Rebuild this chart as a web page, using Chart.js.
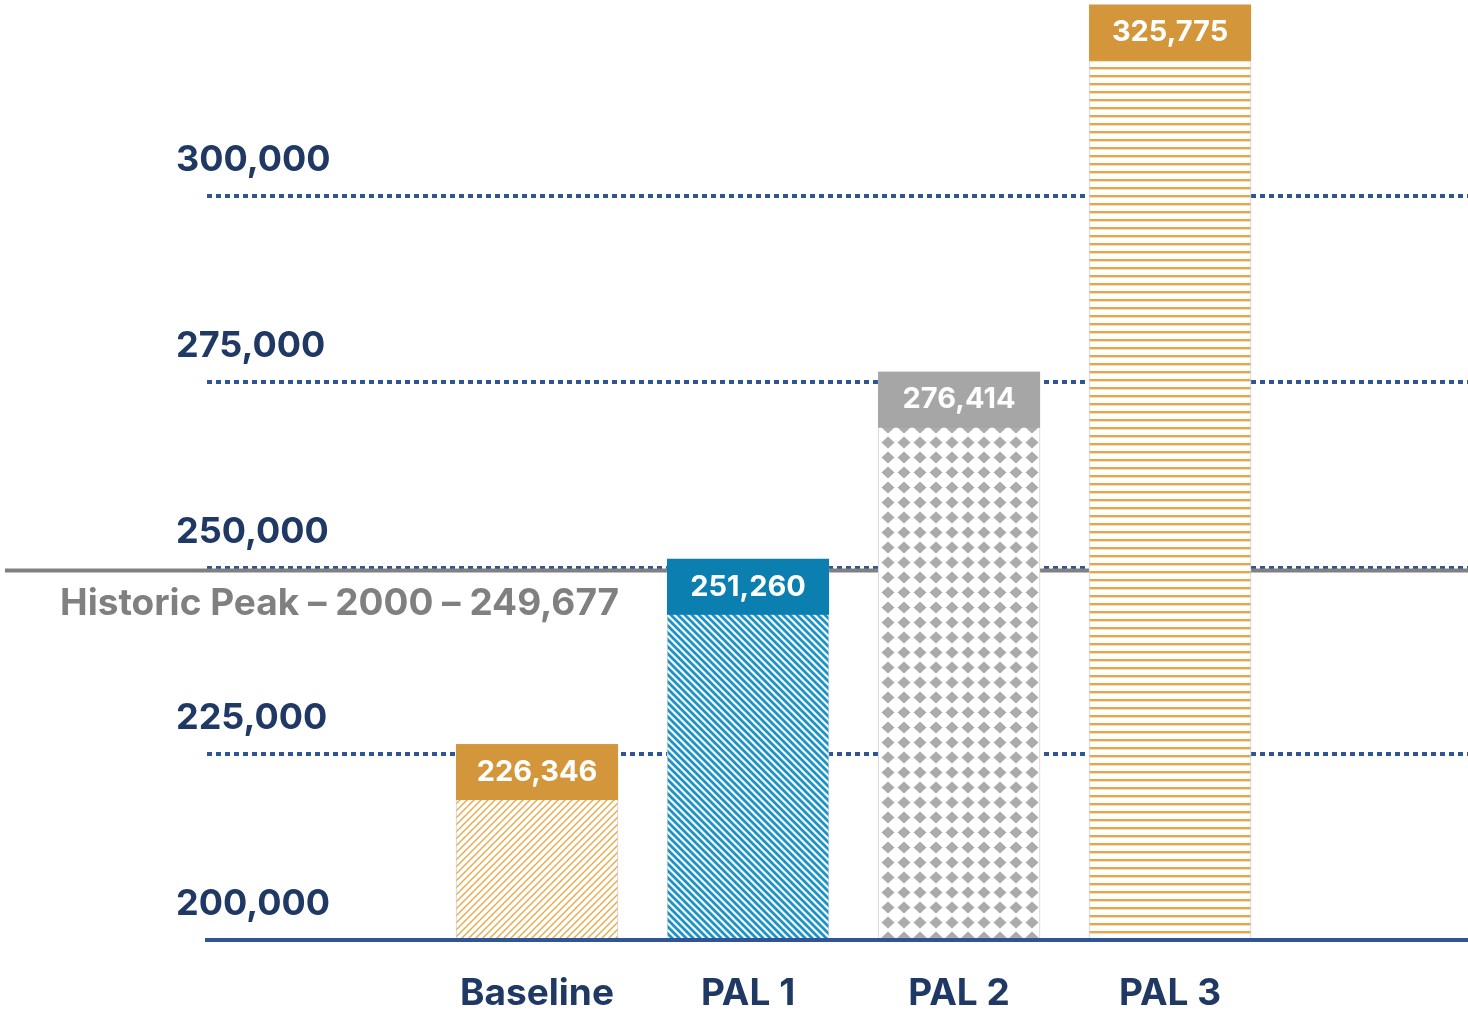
<!DOCTYPE html>
<html>
<head>
<meta charset="utf-8">
<script src="https://cdn.jsdelivr.net/npm/chart.js@4.4.0/dist/chart.umd.min.js"></script>
<style>
  html, body { margin: 0; padding: 0; background: #fff; }
  #wrap { width: 1468px; height: 1015px; }
</style>
</head>
<body>
<div id="wrap"><canvas id="palChart" width="1468" height="1015"></canvas></div>
<script>
// ── data ─────────────────────────────────────────────
const categories   = ['Baseline', 'PAL 1', 'PAL 2', 'PAL 3'];
const values       = [226346, 251260, 276414, 325775];
const tickValues   = [200000, 225000, 250000, 275000, 300000];
const historicPeak = 249677;
const historicYear = '2000';

// ── colours ──────────────────────────────────────────
const NAVY      = '#1F3864';
const GRID_BLUE = '#2F5597';
const GOLD      = '#D4963A';
const BLUE      = '#0A7FB0';
const GREY_BOX  = '#A6A6A6';
const PEAK_GREY = '#808080';
const FONT      = "Inter, 'Noto Sans', sans-serif";

// Small tiles used as fill patterns for the bars
function makePattern(w, h, draw) {
  const c = document.createElement('canvas');
  c.width = w; c.height = h;
  const g = c.getContext('2d');
  g.fillStyle = '#fff';
  g.fillRect(0, 0, w, h);
  draw(g, w, h);
  return g.createPattern(c, 'repeat');
}

const ctx = document.getElementById('palChart').getContext('2d');

const patterns = [
  // Baseline: thin "/" hatch
  makePattern(7, 7, (g, w, h) => {
    g.strokeStyle = '#E9A849'; g.lineWidth = 1.4;
    g.beginPath();
    g.moveTo(-1, h + 1); g.lineTo(w + 1, -1);
    g.moveTo(-1, 1); g.lineTo(1, -1);
    g.moveTo(w - 1, h + 1); g.lineTo(w + 1, h - 1);
    g.stroke();
  }),
  // PAL 1: heavy "\" hatch
  makePattern(7, 7, (g, w, h) => {
    g.strokeStyle = '#1A93C8'; g.lineWidth = 2.8;
    g.beginPath();
    g.moveTo(-1, -1); g.lineTo(w + 1, h + 1);
    g.moveTo(w - 1, -1); g.lineTo(w + 1, 1);
    g.moveTo(-1, h - 1); g.lineTo(1, h + 1);
    g.stroke();
  }),
  // PAL 2: diamond grid
  makePattern(16, 15, (g, w, h) => {
    g.fillStyle = '#ABABAB';
    g.beginPath();
    g.moveTo(8, 1.5); g.lineTo(14.5, 7.5); g.lineTo(8, 13.5); g.lineTo(1.5, 7.5);
    g.closePath();
    g.fill();
  }),
  // PAL 3: horizontal lines
  makePattern(8, 8, (g, w, h) => {
    g.fillStyle = '#E6A54A';
    g.fillRect(0, 3, w, 2.4);
  })
];
const boxColors = [GOLD, BLUE, GREY_BOX, GOLD];

// Historic peak line + caption, behind the bars
const peakPlugin = {
  id: 'peakLine',
  beforeDatasetsDraw(chart) {
    const y = chart.scales.y.getPixelForValue(historicPeak);
    const c = chart.ctx;
    c.save();
    c.strokeStyle = PEAK_GREY;
    c.lineWidth = 4;
    c.beginPath();
    c.moveTo(5, y); c.lineTo(chart.width, y);
    c.stroke();
    c.fillStyle = PEAK_GREY;
    c.font = `bold 37px ${FONT}`;
    c.textBaseline = 'middle';
    c.textAlign = 'left';
    c.fillText(`Historic Peak \u2013 ${historicYear} \u2013 ${historicPeak.toLocaleString('en-US')}`, 60, y + 33);
    c.restore();
  }
};

// Coloured value box sitting on top of each bar
const valueBoxPlugin = {
  id: 'valueBoxes',
  afterDatasetsDraw(chart) {
    const c = chart.ctx;
    const meta = chart.getDatasetMeta(0);
    c.save();
    meta.data.forEach((bar, i) => {
      const { x, y, width } = bar.getProps(['x', 'y', 'width'], true);
      c.fillStyle = boxColors[i];
      c.fillRect(x - width / 2, y, width, 56);
      c.fillStyle = '#fff';
      c.font = `bold 29px ${FONT}`;
      c.textAlign = 'center';
      c.textBaseline = 'middle';
      c.fillText(values[i].toLocaleString('en-US'), x, y + 28);
    });
    c.restore();
  }
};

new Chart(ctx, {
  type: 'bar',
  data: {
    datasets: [{
      data: values.map((v, i) => ({ x: i, y: v })),
      backgroundColor: patterns,
      borderColor: '#d0d0d0',
      borderWidth: 1,
      barThickness: 162
    }]
  },
  options: {
    responsive: false,
    animation: false,
    devicePixelRatio: 1,
    layout: { padding: { left: 207, right: 0, top: 3, bottom: 0 } },
    plugins: {
      legend: { display: false },
      tooltip: { enabled: false }
    },
    scales: {
      x: {
        type: 'linear',
        offset: false,
        min: -1.564,
        max: 4.412,
        afterBuildTicks: scale => { scale.ticks = categories.map((_, i) => ({ value: i })); },
        afterFit: scale => { scale.height = 75; },
        ticks: {
          callback: v => categories[v],
          font: { family: FONT, size: 37, weight: 'bold' },
          color: NAVY,
          padding: 32,
          autoSkip: false,
          maxRotation: 0
        },
        grid: { display: false, drawTicks: false },
        border: { display: true, color: GRID_BLUE, width: 4, z: 1 }
      },
      y: {
        min: 200000,
        max: 326000,
        afterBuildTicks: scale => { scale.ticks = tickValues.map(v => ({ value: v })); },
        afterFit: scale => { scale.width = 0; },
        ticks: {
          mirror: true,
          padding: -31,
          labelOffset: -36,
          font: { family: FONT, size: 36, weight: 'bold' },
          color: NAVY,
          callback: v => v.toLocaleString('en-US')
        },
        grid: { color: GRID_BLUE, lineWidth: 4, drawTicks: false },
        border: { display: false, dash: [5, 4] }
      }
    }
  },
  plugins: [peakPlugin, valueBoxPlugin]
});
</script>
</body>
</html>
